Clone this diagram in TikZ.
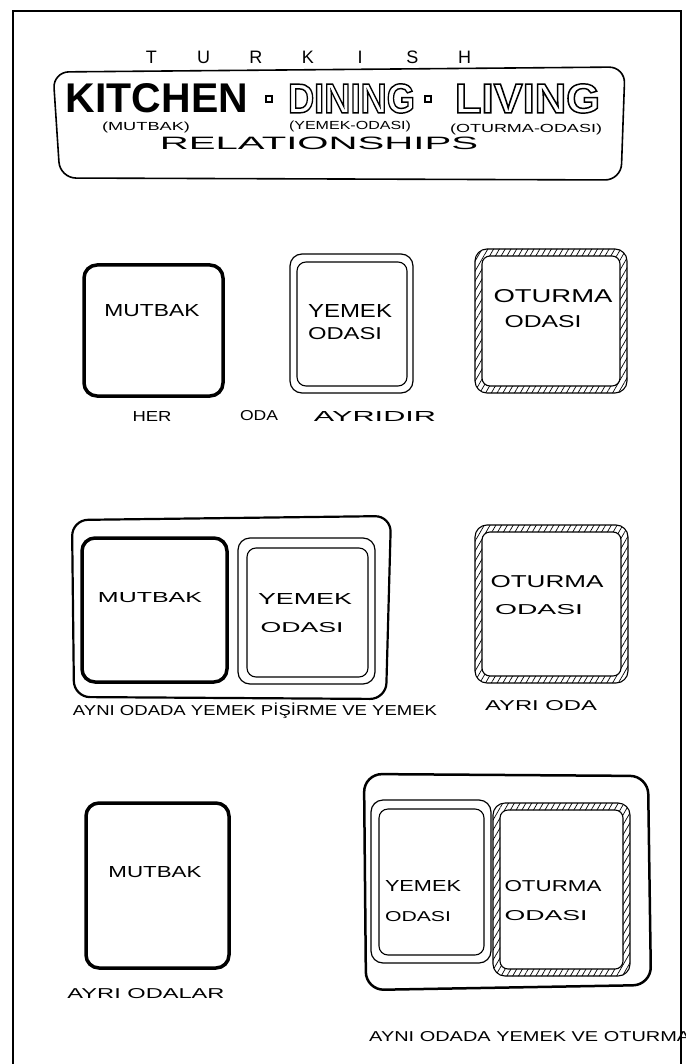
\documentclass[tikz,border=0pt]{standalone}
\usepackage{fontspec}
\usepackage{graphicx}
\setmainfont{Liberation Sans}
\newfontfamily\hand{Liberation Sans}
\newfontfamily\handb{Liberation Sans Bold}
\usetikzlibrary{patterns.meta}
\newcommand{\hw}[3]{\resizebox{#1pt}{#2pt}{\hand #3}}
\newcommand{\hwb}[3]{\resizebox{#1pt}{#2pt}{\handb #3}}
\newcommand{\hwo}[3]{\resizebox{#1pt}{#2pt}{\special{pdf:literal direct 1 Tr 0.35 w}\handb #3\special{pdf:literal direct 0 Tr}}}
\newcommand{\lt}[1]{\makebox[52.2pt]{#1}}
\tikzset{
  kitchenwall/.style={line width=3.5pt, rounded corners=13pt},
  diningwall/.style={line width=1.2pt, rounded corners=12pt},
  diningin/.style={line width=1.1pt, rounded corners=9pt},
  livingline/.style={line width=1.1pt},
  hatch/.style={pattern={Lines[angle=60,distance=5pt,line width=0.7pt]}, even odd rule},
  container/.style={line width=2.2pt, rounded corners=16pt},
  lbl/.style={inner sep=0pt, anchor=center},
  frame/.style={line width=2.5pt}
}
\newcommand{\livingroom}[4]{%
  \fill[hatch] [rounded corners=12pt] (#1,#2) rectangle (#3,#4)
     [rounded corners=8pt] ({#1+7},{#2+7}) rectangle ({#3-7},{#4-7});
  \draw[livingline, rounded corners=12pt] (#1,#2) rectangle (#3,#4);
  \draw[livingline, rounded corners=8pt] ({#1+7},{#2+7}) rectangle ({#3-7},{#4-7});
}
\begin{document}
\begin{tikzpicture}[x=1pt,y=-1pt]
\useasboundingbox (0,0) rectangle (685,1064);
\fill[white] (0,0) rectangle (685,1064);
% page frame
\draw[frame] (13,1070) -- (13,11) -- (681,11) -- (681,1070);

% ---------- title ----------
\node[lbl] (turkish) at (308,57) {\hand\fontsize{18}{18}\selectfont\lt{T}\lt{U}\lt{R}\lt{K}\lt{I}\lt{S}\lt{H}};
\draw[line width=1.6pt, rounded corners=16pt] (53,72) -- (625,67) -- (621,180) -- (60,178) -- cycle;
\node[lbl] (kitchen) at (157,98.5) {\hwb{182}{29}{KITCHEN}};
\node[draw, line width=1.2pt, minimum size=6pt, inner sep=0pt] (sq1) at (269,99) {};
\node[lbl] (dining) at (351.5,98.5) {\hwo{127}{29}{DINING}};
\node[draw, line width=1.2pt, minimum size=6pt, inner sep=0pt] (sq2) at (428,99) {};
\node[lbl] (living) at (527.5,98.5) {\hwo{145}{29}{LIVING}};
\node[lbl] (tmutbak) at (146,127) {\hw{88}{8.5}{(MUTBAK)}};
\node[lbl] (tyemek) at (350,126) {\hw{122}{8.5}{(YEMEK-ODASI)}};
\node[lbl] (toturma) at (526,129) {\hw{152}{8.5}{(OTURMA-ODASI)}};
\node[lbl] (relations) at (319,143) {\hw{318}{12.5}{RELATIONSHIPS}};

% ---------- row 1 ----------
\draw[kitchenwall] (84,265) rectangle (223,396);
\node[lbl] (m1) at (152,311) {\hw{95}{12}{MUTBAK}};
\draw[diningwall] (290,254) rectangle (413,393);
\draw[diningin] (297,262) rectangle (407,386);
\node[lbl] (y1a) at (350,311) {\hw{84}{13}{YEMEK}};
\node[lbl] (y1b) at (345,334) {\hw{74}{12}{ODASI}};
\livingroom{475}{249}{627}{393}
\node[lbl] (o1a) at (553,296) {\hw{119}{13}{OTURMA}};
\node[lbl] (o1b) at (543,322) {\hw{77}{12}{ODASI}};
\node[lbl] (her) at (152,416) {\hw{39}{10}{HER}};
\node[lbl] (oda) at (259,416) {\hw{38}{10}{ODA}};
\node[lbl] (ayridir) at (375,416) {\hw{122}{10}{AYRIDIR}};

% ---------- row 2 ----------
\draw[container] (72,520) -- (391,516) -- (386,699) -- (74,697) -- cycle;
\draw[kitchenwall] (82,538) rectangle (227,682);
\node[lbl] (m2) at (150,598) {\hw{104}{10}{MUTBAK}};
\draw[diningwall] (238,538) rectangle (375,684);
\draw[diningin] (247,548) rectangle (368,677);
\node[lbl] (y2a) at (305,599) {\hw{94}{11}{YEMEK}};
\node[lbl] (y2b) at (302,628) {\hw{83}{10}{ODASI}};
\node[lbl] (cap2) at (255,711) {\hw{364}{12.5}{AYNI ODADA YEMEK PİŞİRME VE YEMEK}};
\livingroom{475}{525}{628}{683}
\node[lbl] (o2a) at (547,582) {\hw{113}{12}{OTURMA}};
\node[lbl] (o2b) at (539,610) {\hw{88}{10}{ODASI}};
\node[lbl] (ayrioda) at (541,706) {\hw{112}{10}{AYRI ODA}};

% ---------- row 3 ----------
\draw[kitchenwall] (86,803) rectangle (229,968);
\node[lbl] (m3) at (155,872) {\hw{93}{11}{MUTBAK}};
\node[lbl] (ayriodalar) at (146,994) {\hw{157}{10}{AYRI ODALAR}};
\draw[container, line width=2.5pt, rounded corners=18pt] (364,774) -- (648,776) -- (651,985) -- (366,990) -- cycle;
\draw[diningwall] (371,800) rectangle (491,963);
\draw[diningin] (379,809) rectangle (484,955);
\node[lbl] (y3a) at (423,886) {\hw{76}{11}{YEMEK}};
\node[lbl] (y3b) at (418,917) {\hw{66}{10}{ODASI}};
\livingroom{493}{803}{630}{976}
\node[lbl] (o3a) at (553,886) {\hw{97}{11}{OTURMA}};
\node[lbl] (o3b) at (546,916) {\hw{83}{10}{ODASI}};
\node[lbl, anchor=west] (cap3) at (369,1037) {\hw{321}{10}{AYNI ODADA YEMEK VE OTURMA}};
\end{tikzpicture}
\end{document}
